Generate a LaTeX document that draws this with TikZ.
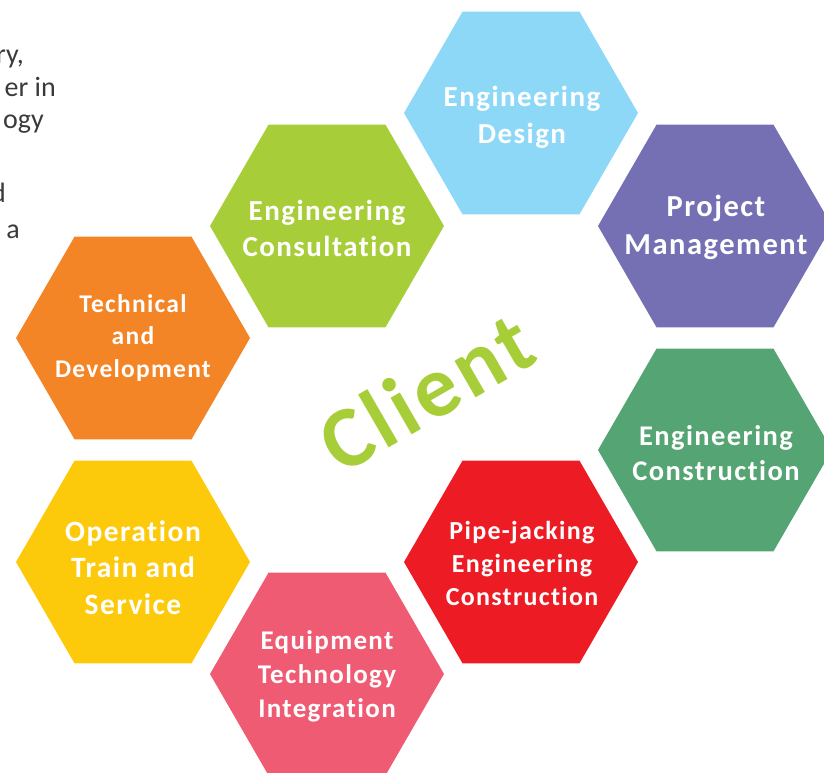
\documentclass[tikz,border=0pt]{standalone}
\usepackage{fontspec}
\setmainfont{Carlito}[Ligatures=NoCommon]
\newfontfamily\hexfont{Carlito}[LetterSpace=5,Ligatures=NoCommon]
\usetikzlibrary{shapes.geometric}
\definecolor{cblue}{HTML}{8ED8F7}
\definecolor{cpurple}{HTML}{7570B3}
\definecolor{cgreen}{HTML}{55A474}
\definecolor{cred}{HTML}{ED1C24}
\definecolor{cpink}{HTML}{EF5B73}
\definecolor{cyellow}{HTML}{FDC90B}
\definecolor{corange}{HTML}{F38526}
\definecolor{clime}{HTML}{A7CE39}
\definecolor{cgray}{HTML}{3A3A3A}
\tikzset{
  hexbox/.style={regular polygon, regular polygon sides=6, minimum size=234pt,
    inner sep=0pt, outer sep=0pt, draw=none},
  lbl/.style={text=white, align=center, inner sep=0pt, text depth=0pt},
  side/.style={text=cgray, inner sep=0pt, anchor=base east,
    font=\fontsize{28}{33}\selectfont},
}
\begin{document}
\begin{tikzpicture}[x=1pt,y=-1pt]
\useasboundingbox (0,0) rectangle (824,772);
% hexagons
\node[hexbox, fill=cblue]   (ed)  at (521,113) {};
\node[hexbox, fill=cpurple] (pm)  at (715,226) {};
\node[hexbox, fill=cgreen]  (ec)  at (715,450) {};
\node[hexbox, fill=cred]    (pj)  at (521,562) {};
\node[hexbox, fill=cpink]   (eti) at (327,674) {};
\node[hexbox, fill=cyellow] (ots) at (133,562) {};
\node[hexbox, fill=corange] (td)  at (133,338) {};
\node[hexbox, fill=clime]   (ecn) at (327,226) {};
% labels
\node[lbl, font=\hexfont\bfseries\fontsize{29}{37}\selectfont] (edt) at (522,114.5) {Engineering\\Design};
\node[lbl, font=\hexfont\bfseries\fontsize{30.5}{38}\selectfont] (pmt) at (716,224.5) {Project\\Management};
\node[lbl, font=\hexfont\bfseries\fontsize{28.5}{35}\selectfont] (ect) at (716,453) {Engineering\\Construction};
\node[lbl, font=\hexfont\bfseries\fontsize{26}{33}\selectfont] (pjt) at (522,563.5) {Pipe-jacking\\Engineering\\Construction};
\node[lbl, font=\hexfont\bfseries\fontsize{27}{34}\selectfont] (etit) at (327,674) {Equipment\\Technology\\Integration};
\node[lbl, font=\hexfont\bfseries\fontsize{29.5}{36.5}\selectfont] (otst) at (133,567.5) {Operation\\Train and\\Service};
\node[lbl, font=\hexfont\bfseries\fontsize{25.5}{32.5}\selectfont] (tdt) at (133,336) {Technical\\and\\Development};
\node[lbl, font=\hexfont\bfseries\fontsize{29}{36}\selectfont] (ecnt) at (327,228.8) {Engineering\\Consultation};
% centre word
\node[text=clime, inner sep=0pt, rotate=30, font=\hexfont\bfseries\fontsize{87}{95}\selectfont] (client) at (426,392) {Client};
% clipped paragraph fragments on the left
\node[side] (s1) at (24,63) {ry,};
\node[side] (s2) at (56,96) {er in};
\node[side] (s3) at (44,128) {ogy};
\node[side] (s4) at (6,202) {d};
\node[side] (s5) at (20,238) {a};
\end{tikzpicture}
\end{document}
